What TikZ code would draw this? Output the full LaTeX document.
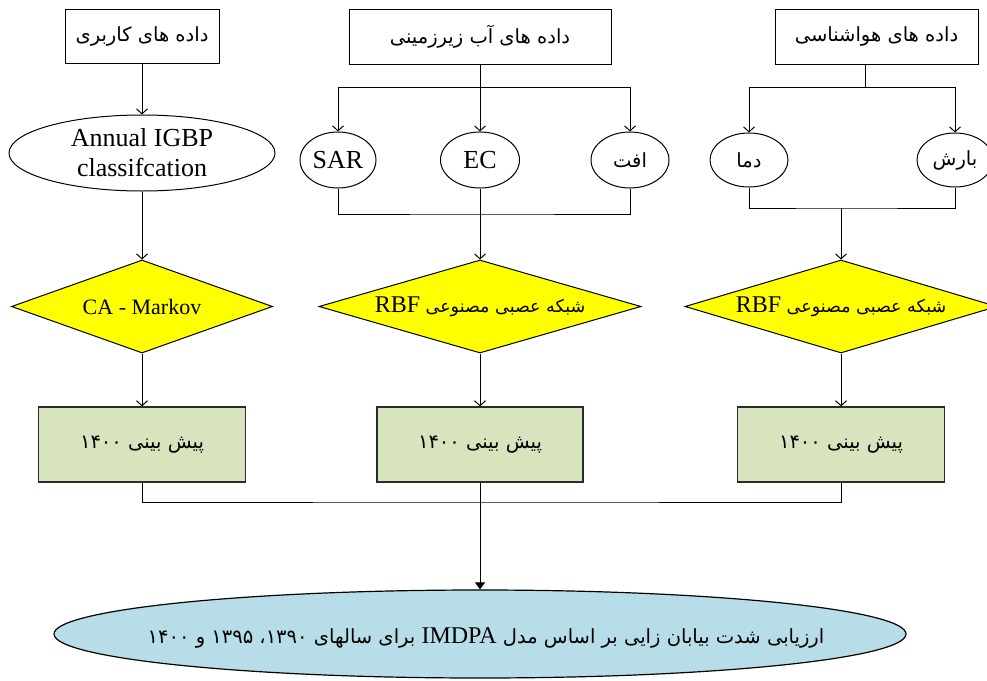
\documentclass[tikz,border=0pt]{standalone}
\usepackage{fontspec}
\setmainfont{Liberation Serif}
\newfontfamily\fa[Script=Arabic]{DejaVu Sans}
\TeXXeTstate=1
\usetikzlibrary{shapes.geometric,arrows.meta}
\definecolor{dyellow}{HTML}{FFFF00}
\definecolor{bgreen}{HTML}{D7E4BD}
\definecolor{eblue}{HTML}{B7DEE8}
\definecolor{edge}{HTML}{2B2B2B}
\tikzset{
  conn/.style={draw=black, line width=1pt},
  arr/.style={conn, -{Straight Barb[length=5pt,width=11pt]}},
  farr/.style={conn, -{Triangle[length=7pt,width=10pt]}},
  srcbox/.style={draw=black, line width=1pt, rectangle, inner sep=0pt},
  oval/.style={draw=black, line width=1pt, ellipse, inner sep=0pt},
  dia/.style={draw=black, line width=1pt, diamond, fill=dyellow, inner sep=0pt},
  gbox/.style={draw=edge, line width=1.2pt, rectangle, fill=bgreen, inner sep=0pt},
  bigoval/.style={draw=black, line width=1.2pt, ellipse, fill=eblue, inner sep=0pt},
  lat/.style={font=\fontsize{26}{30}\selectfont, align=center, inner sep=0pt},
  per/.style={font=\fa\fontsize{19.5}{22}\selectfont, inner sep=0pt},
  perd/.style={font=\fa\fontsize{17.5}{20}\selectfont, inner sep=0pt},
}
\newcommand{\rtl}[1]{\beginR #1\endR}
\begin{document}
\begin{tikzpicture}[x=1pt,y=-1pt]
\useasboundingbox (0,0) rectangle (987,680);
\clip (0,0) rectangle (987,680);
% top source boxes
\node[srcbox, minimum width=154pt, minimum height=54pt] (bU) at (142,36) {};
\node[per] (tU) at (bU.center) {\rtl{داده های کاربری}};
\node[srcbox, minimum width=262pt, minimum height=55pt] (bW) at (480,36.5) {};
\node[per] (tW) at (bW.center) {\rtl{داده های آب زیرزمینی}};
\node[srcbox, minimum width=203pt, minimum height=55pt] (bM) at (876.5,36.5) {};
\node[per] (tM) at (bM.center) {\rtl{داده های هواشناسی}};
% ellipses
\node[oval, minimum width=266pt, minimum height=76pt] (eI) at (142,153) {};
\node[lat] (tI) at (eI.center) {Annual IGBP\\classifcation};
\node[oval, minimum width=76pt, minimum height=56pt] (eS) at (338,160) {};
\node[lat] (tS) at (eS.center) {SAR};
\node[oval, minimum width=79pt, minimum height=56pt] (eE) at (480,160) {};
\node[lat] (tE) at (eE.center) {EC};
\node[oval, minimum width=78pt, minimum height=56pt] (eA) at (630,160) {};
\node[per] (tA) at (eA.center) {\rtl{افت}};
\node[oval, minimum width=78pt, minimum height=54pt] (eD) at (749,160) {};
\node[per] (tD) at (eD.center) {\rtl{دما}};
\node[oval, minimum width=76pt, minimum height=54pt] (eB) at (955,160) {};
\node[per] (tB) at (eB.center) {\rtl{بارش}};
% diamonds
\node[dia, minimum width=261pt, minimum height=93pt] (dC) at (142,306.5) {};
\node[font=\fontsize{22}{24}\selectfont, inner sep=0pt] (tC) at (dC.center) {CA - Markov};
\node[dia, minimum width=322pt, minimum height=93pt] (dW) at (480,306.5) {};
\node[perd] (tdW) at (dW.center) {\rtl{شبکه عصبی مصنوعی \beginL{\rmfamily\fontsize{24}{26}\selectfont RBF}\endL}};
\node[dia, minimum width=312pt, minimum height=93pt] (dM) at (841,306.5) {};
\node[perd] (tdM) at (dM.center) {\rtl{شبکه عصبی مصنوعی \beginL{\rmfamily\fontsize{24}{26}\selectfont RBF}\endL}};
% green boxes
\node[gbox, minimum width=207pt, minimum height=75pt] (g1) at (142,444.5) {};
\node[per] (tg1) at (g1.center) {\rtl{پیش بینی \beginL ۱۴۰۰\endL}};
\node[gbox, minimum width=206pt, minimum height=75pt] (g2) at (480,444.5) {};
\node[per] (tg2) at (g2.center) {\rtl{پیش بینی \beginL ۱۴۰۰\endL}};
\node[gbox, minimum width=207pt, minimum height=75pt] (g3) at (841,444.5) {};
\node[per] (tg3) at (g3.center) {\rtl{پیش بینی \beginL ۱۴۰۰\endL}};
% bottom ellipse
\node[bigoval, minimum width=852pt, minimum height=88pt] (eF) at (480,634) {};
\node[per] (tF) at (486,638) {\rtl{ارزیابی شدت بیابان زایی بر اساس مدل \beginL{\rmfamily\fontsize{24}{26}\selectfont IMDPA}\endL{} برای سالهای \beginL ۱۳۹۰\endL، \beginL ۱۳۹۵\endL{} و \beginL ۱۴۰۰\endL}};
% junction coordinates
\coordinate (wj) at (480,87);
\coordinate (wb) at (480,214);
\coordinate (mj) at (865,87);
\coordinate (mb) at (841,208);
\coordinate (bj) at (480,502);
% left column
\draw[arr] (bU.south) -- (eI.north);
\draw[arr] (eI.south) -- (dC.north);
\draw[arr] (dC.south) -- (g1.north);
% middle column
\draw[arr] (bW.south) -- (eE.north);
\draw[arr] (wj) -| (eS.north);
\draw[arr] (wj) -| (eA.north);
\draw[conn] (eS.south) |- (wb) -| (eA.south);
\draw[arr] (eE.south) -- (dW.north);
\draw[arr] (dW.south) -- (g2.north);
% right column
\draw[conn] (mj |- bM.south) -- (mj);
\draw[arr] (mj) -| (eD.north);
\draw[arr] (mj) -| (eB.north);
\draw[conn] (eD.south) |- (mb) -| (eB.south);
\draw[arr] (mb) -- (dM.north);
\draw[arr] (dM.south) -- (g3.north);
% bottom
\draw[conn] (g1.south) |- (bj) -| (g3.south);
\draw[farr] (g2.south) -- (eF.north);
\end{tikzpicture}
\end{document}
